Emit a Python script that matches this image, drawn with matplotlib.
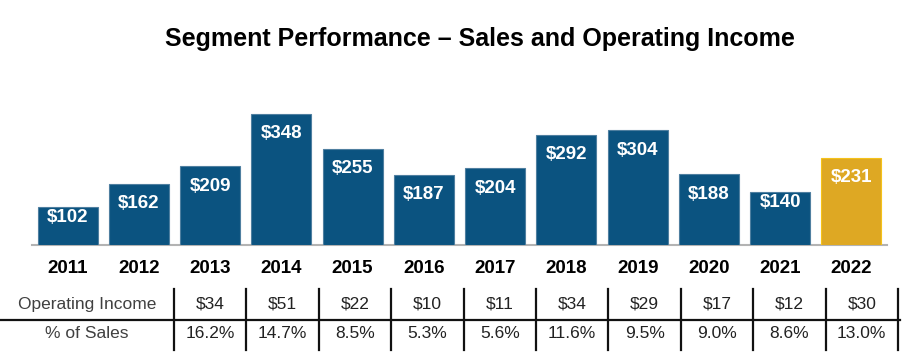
import matplotlib.pyplot as plt
import numpy as np


YEARS = ["2011", "2012", "2013", "2014", "2015", "2016",
         "2017", "2018", "2019", "2020", "2021", "2022"]
SALES = [102, 162, 209, 348, 255, 187, 204, 292, 304, 188, 140, 231]

TABLE_YEARS = YEARS[2:]
OPERATING_INCOME = ["$34", "$51", "$22", "$10", "$11",
                    "$34", "$29", "$17", "$12", "$30"]
PCT_OF_SALES = ["16.2%", "14.7%", "8.5%", "5.3%", "5.6%",
                "11.6%", "9.5%", "9.0%", "8.6%", "13.0%"]
ROW_LABELS = ["Operating Income", "% of Sales"]

BLUE = "#0B5380"
BLUE_EDGE = "#4F7FA0"
GOLD = "#DEA823"
GOLD_EDGE = "#F5C21A"

plt.rcParams["font.family"] = ["Liberation Sans", "DejaVu Sans"]

W, H = 917, 356
fig = plt.figure(figsize=(W / 100, H / 100), dpi=100)

ax = fig.add_axes([32 / W, 1 - 245 / H, 855 / W, 165 / H])

x = np.arange(len(YEARS))
colors = [BLUE] * (len(YEARS) - 1) + [GOLD]
edges = [BLUE_EDGE] * (len(YEARS) - 1) + [GOLD_EDGE]

ax.bar(x, SALES, width=0.84, color=colors, edgecolor=edges,
       linewidth=0.8, zorder=2)

for xi, v in zip(x, SALES):
    label_y = v - 53 if v > 150 else v - 28
    ax.text(xi, label_y, f"${v}", ha="center", va="center",
            color="white", fontsize=13.5, fontweight="bold", zorder=3)

ax.set_xlim(-0.5, 11.5)
ax.set_ylim(0, 438)
ax.set_xticks(x)
ax.set_xticklabels(YEARS, fontsize=13.5, fontweight="bold")
ax.tick_params(axis="x", length=0, pad=11)
ax.set_yticks([])

for side in ["top", "right", "left"]:
    ax.spines[side].set_visible(False)
ax.spines["bottom"].set_color("#B3B3B3")
ax.spines["bottom"].set_linewidth(1.5)
ax.spines["bottom"].set_zorder(1)

fig.text(480 / W, 1 - 39 / H,
         "Segment Performance \u2013 Sales and Operating Income",
         ha="center", va="center", fontsize=18, fontweight="bold")

# table below the bars, in pixel coordinates
tax = fig.add_axes([0, 0, 1, 1])
tax.set_xlim(0, W)
tax.set_ylim(H, 0)
tax.axis("off")

col_left = 174
col_w = 72.4
row_y = [304, 334]

tax.plot([0, col_left + col_w * len(TABLE_YEARS) + 2], [320, 320],
         color="#111111", linewidth=1.6)
for k in range(len(TABLE_YEARS) + 1):
    xe = col_left + col_w * k
    tax.plot([xe, xe], [289, 350], color="#111111", linewidth=1.6)

for label, y in zip(ROW_LABELS, row_y):
    tax.text(87, y, label, ha="center", va="center",
             fontsize=12.5, color="#404040")

for k, (oi, pct) in enumerate(zip(OPERATING_INCOME, PCT_OF_SALES)):
    xc = col_left + col_w * (k + 0.5)
    tax.text(xc, row_y[0], oi, ha="center", va="center",
             fontsize=12.5, color="#222222")
    tax.text(xc, row_y[1], pct, ha="center", va="center",
             fontsize=12.5, color="#222222")

fig.savefig("out.png", dpi=100)
